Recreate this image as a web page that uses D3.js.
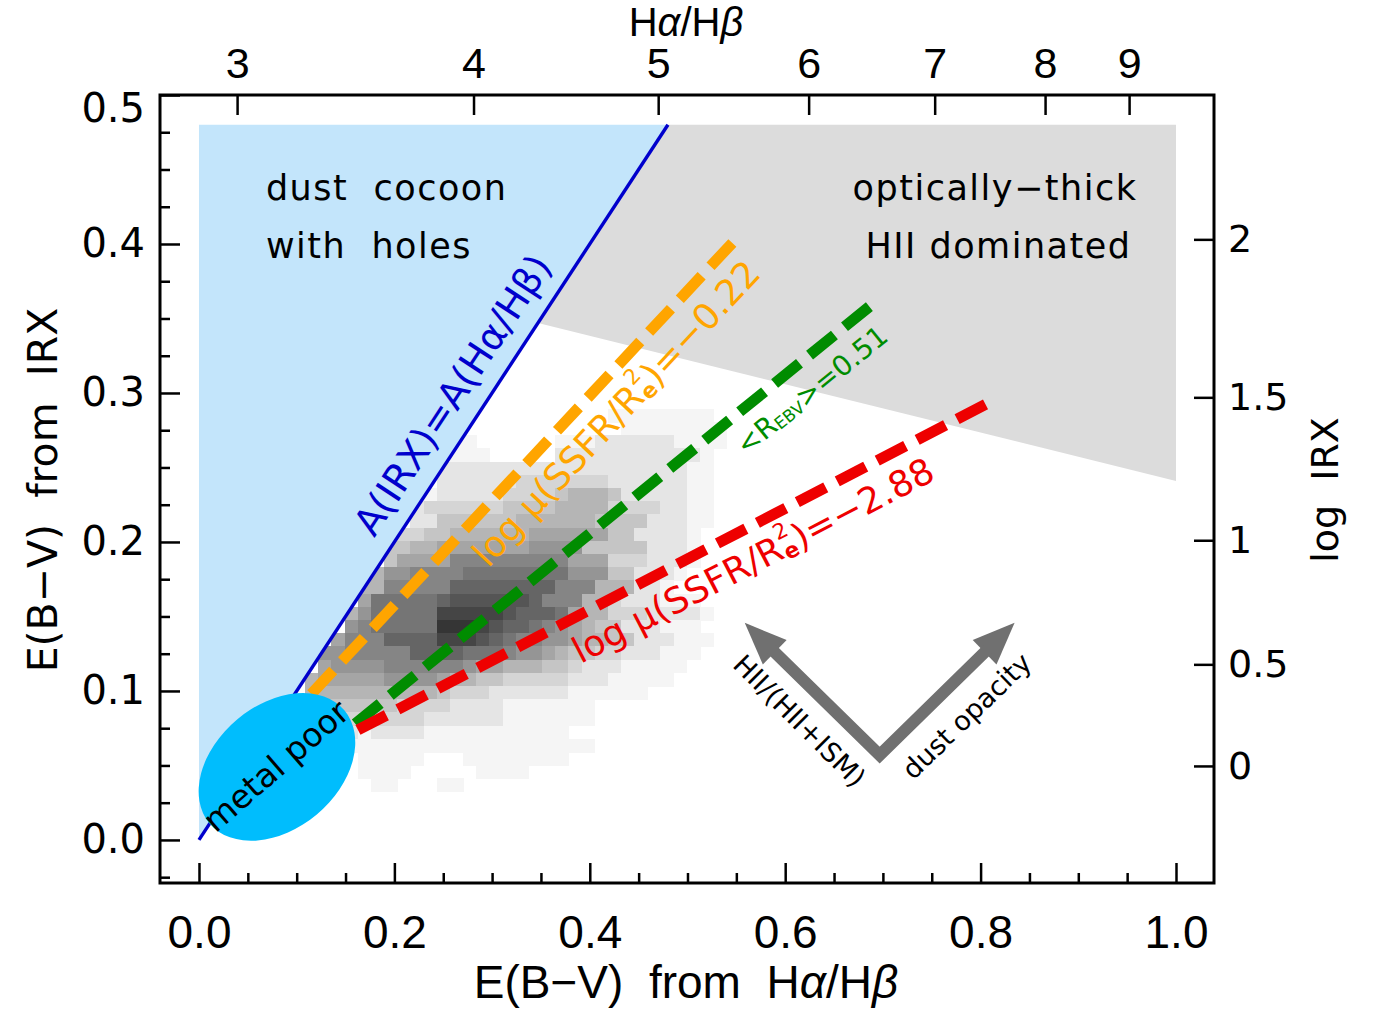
<!DOCTYPE html>
<html><head><meta charset="utf-8">
<script src="https://cdn.jsdelivr.net/npm/d3@7"></script>
<style>body{margin:0;background:#fff}</style>
</head><body><svg id="c" width="1380" height="1011"></svg>
<script>
// ---------------- data ----------------
const xMajorTicks = [0, 0.2, 0.4, 0.6, 0.8, 1.0];
const xMinorTicks = [0.05,0.1,0.15,0.25,0.3,0.35,0.45,0.5,0.55,0.65,0.7,0.75,0.85,0.9,0.95];
const yMajorTicks = [0, 0.1, 0.2, 0.3, 0.4, 0.5];
const yMinorTicks = [-0.025,0.025,0.05,0.075,0.125,0.15,0.175,0.225,0.25,0.275,0.325,0.35,0.375,0.425,0.45,0.475];
const ratioTicks = [3, 4, 5, 6, 7, 8, 9];
const ratioTickEBV = [0.039, 0.281, 0.470, 0.624, 0.753, 0.866, 0.952];
const irxTicks = [0, 0.5, 1, 1.5, 2];
const irxTickLabels = ["0", "0.5", "1", "1.5", "2"];
const buatCoef = [0.4967, 1.1960, 0.3522, -0.0333];   // A_FUV(log IRX)
const kFUV = 10.0;

const blueRegion = [[0,0],[0,0.48],[0.48,0.48]];
const grayRegion = [[0.347,0.347],[0.48,0.48],[1.0,0.48],[1.0,0.241]];
const equalityLine = [[0,0],[0.48,0.48]];
const orangeLine = [[0.115,0.098],[0.552,0.405]];
const greenLine  = [[0.160,0.078],[0.690,0.360]];
const redLine    = [[0.1627,0.0738],[0.810,0.294]];

const ellipseCenter = [0.0798, 0.049];
const arrowVertex = [0.6967, 0.0570];
const arrowTips = [[0.5586, 0.1457], [0.8348, 0.1457]];

// 2D histogram (hex density levels), rows top -> bottom
const heatX0 = 0.0952, heatDX = 0.01347, heatY0 = 0.0324, heatDY = 0.00886, heatCols = 34;
const heatRows = [
 "",
 "000000000000000000000000 11111111",
 "0000000000000000000000000 11111111",
 "00000000000 111 000000 1112222221111",
 "000000000000 111 00000 22222222222 1",
 "00000000000 2222222222222222222 11",
 "00000000000 222222 3333333 222222 11",
 "0000000000 1 22222 3333 45554 22222 11",
 "000000000 2 333333 4444 5555 333322 11",
 "000000000 22 444444 555555 4444 222 11",
 "00000000 33 44555555 666666 44 2222 1",
 "0000000 44 55 6666666 7777 44444 222 1",
 "0000000 4 6666 888888888 666 333 222 1",
 "000000 5 778888 99999999 777 44 222 1",
 "00000 55 88888 aaaaaaaa 888 555 22 1",
 "00000 6 99999 abbbbbba 888 55 3222 111",
 "0000 5 7 99999 ccccc baaa 9 655 333 2222 1",
 "0000 7 8 99999 dddc baa 98 765 44 222 111",
 "000 6 888 aaaa cccb a98 877 655 44 222 111",
 "00 77 88 888 aaaa 999 877 654 433 222 111",
 "00 6 7777 888 888 766 555 443 222 11111",
 "0 5 66666 7777 6 5544 33333 222 11111",
 "0 55 55555555 4 333 222222 111111",
 "4444 4444 3333 2222 1111111",
 "33333 33333 222222 1111111",
 "22222 1 2222 11111111111",
 "11111 1111111111 11111111",
 "00000 11111 000 11111111",
 "00000 1111 00000 1111",
 "000000 11 000 11"
];

// ---------------- drawing ----------------
const W = 1380, H = 1011;
const plot = {left:160, right:1214, top:95, bottom:883};
const x = d3.scaleLinear().domain([-0.0399, 1.0389]).range([plot.left, plot.right]);
const y = d3.scaleLinear().domain([-0.0289, 0.5]).range([plot.bottom, plot.top]);
const eFromIrx = L => (buatCoef[0] + buatCoef[1]*L + buatCoef[2]*L*L + buatCoef[3]*L*L*L) / kFUV;
const xTop = d3.scaleLinear().domain(ratioTicks).range(ratioTickEBV.map(e => x(e)));
const yRight = d3.scaleLinear().domain(irxTicks).range(irxTicks.map(L => y(eFromIrx(L))));

const svg = d3.select("#c");
svg.append("rect").attr("width", W).attr("height", H).attr("fill", "#fff");
svg.append("defs").append("clipPath").attr("id","clip").append("rect")
  .attr("x", plot.left).attr("y", plot.top).attr("width", plot.right-plot.left).attr("height", plot.bottom-plot.top);
const g = svg.append("g").attr("clip-path","url(#clip)");
const line = d3.line().x(d => x(d[0])).y(d => y(d[1]));

// heatmap
const cells = [];
heatRows.forEach((s, i) => {
  const row = s.replace(/ /g, "").padEnd(heatCols, "0");
  const r = heatRows.length - 1 - i;
  for (let c = 0; c < heatCols; c++) {
    const v = parseInt(row[c], 16);
    if (v > 0) cells.push({c, r, v});
  }
});
const grayOf = v => { const k = Math.max(40, Math.round(245 - (v - 1) * 16)); return `rgb(${k},${k},${k})`; };
g.append("g").selectAll("rect").data(cells).join("rect")
  .attr("x", d => x(heatX0 + d.c*heatDX))
  .attr("y", d => y(heatY0 + (d.r+1)*heatDY))
  .attr("width", d => x(heatX0 + (d.c+1)*heatDX) - x(heatX0 + d.c*heatDX) + 0.6)
  .attr("height", d => y(heatY0 + d.r*heatDY) - y(heatY0 + (d.r+1)*heatDY) + 0.6)
  .attr("fill", d => grayOf(d.v))
  .attr("shape-rendering", "crispEdges");

// regions
g.append("path").attr("d", line(blueRegion) + "Z").attr("fill", "#c3e5fb");
g.append("path").attr("d", line(grayRegion) + "Z").attr("fill", "#dcdcdc");
g.append("path").attr("d", line(equalityLine)).attr("stroke", "#0000cc").attr("stroke-width", 3.4).attr("fill", "none");

// dashed relations
[[orangeLine, "#ffa500"], [greenLine, "#008c00"], [redLine, "#ee0000"]].forEach(([pts, col]) => {
  g.append("path").attr("d", line(pts)).attr("stroke", col).attr("stroke-width", 11)
    .attr("stroke-dasharray", "32,13").attr("fill", "none");
});

// metal poor ellipse
g.append("ellipse").attr("cx", x(ellipseCenter[0])).attr("cy", y(ellipseCenter[1]))
  .attr("rx", 88).attr("ry", 62).attr("fill", "#00bdfd")
  .attr("transform", `rotate(-40 ${x(ellipseCenter[0])} ${y(ellipseCenter[1])})`);

// arrows
const vx = x(arrowVertex[0]), vy = y(arrowVertex[1]);
const bases = [];
arrowTips.forEach(t => {
  const tx = x(t[0]), ty = y(t[1]);
  const a = Math.atan2(ty - vy, tx - vx);
  const hl = 42, hw = 17;
  const bx = tx - hl*Math.cos(a), by = ty - hl*Math.sin(a);
  bases.push([bx + 4*Math.cos(a), by + 4*Math.sin(a)]);
  const px = -Math.sin(a), py = Math.cos(a);
  g.append("path").attr("d", `M${tx},${ty}L${bx+hw*px},${by+hw*py}L${bx-hw*px},${by-hw*py}Z`).attr("fill", "#707070");
});
g.append("path").attr("d", `M${bases[0][0]},${bases[0][1]}L${vx},${vy}L${bases[1][0]},${bases[1][1]}`)
  .attr("stroke", "#707070").attr("stroke-width", 12).attr("fill", "none").attr("stroke-linejoin", "miter");

// ---------- labels ----------
const FONT = "DejaVu Sans";
const angleOf = pts => Math.atan2(y(pts[1][1]) - y(pts[0][1]), x(pts[1][0]) - x(pts[0][0])) * 180 / Math.PI;
function rotText(pos, ang, size, color, build) {
  const px = x(pos[0]), py = y(pos[1]);
  const t = svg.append("text").attr("x", px).attr("y", py)
    .attr("transform", `rotate(${ang} ${px} ${py})`)
    .attr("text-anchor", "middle").attr("dominant-baseline", "central")
    .attr("font-family", FONT).attr("font-size", size).attr("fill", color);
  build(t, size);
  return t;
}
function plain(str) { return t => t.text(str); }
function ssfr(val) {
  return (t, s) => {
    t.append("tspan").text("log μ(SSFR/R");
    t.append("tspan").attr("font-size", s*0.6).attr("dy", -s*0.38).text("2");
    t.append("tspan").attr("font-size", s*0.6).attr("dx", -s*0.36).attr("dy", s*0.62).attr("font-weight", "bold").text("e");
    t.append("tspan").attr("dy", -s*0.24).text(")=" + val);
  };
}
rotText([0.2598, 0.2987], angleOf(equalityLine), 38, "#0000cc", plain("A(IRX)=A(Hα/Hβ)"));
rotText([0.4266, 0.2866], angleOf(orangeLine), 36, "#ffa500", ssfr("−0.22"));
rotText([0.5668, 0.1879], angleOf(redLine), 36, "#ee0000", ssfr("−2.88"));
rotText([0.6271, 0.3020], angleOf(greenLine), 28, "#008c00", (t, s) => {
  t.append("tspan").text("<R");
  t.append("tspan").attr("font-size", s*0.6).attr("dy", s*0.2).text("EBV");
  t.append("tspan").attr("dy", -s*0.2).text(">=0.51");
});
rotText([0.0788, 0.0497], -41, 33, "#000", plain("metal poor"));
rotText([0.6148, 0.0799], 45, 27, "#000", plain("HII/(HII+ISM)"));
rotText([0.7857, 0.0832], -44, 27, "#000", plain("dust opacity"));

const regionText = [
  {pos:[0.0685, 0.4295], anchor:"start", text:"dust  cocoon"},
  {pos:[0.0685, 0.3906], anchor:"start", text:"with  holes"},
  {pos:[0.9606, 0.4295], anchor:"end", text:"optically−thick"},
  {pos:[0.9545, 0.3906], anchor:"end", text:"HII dominated"}
];
svg.append("g").selectAll("text").data(regionText).join("text")
  .attr("x", d => x(d.pos[0])).attr("y", d => y(d.pos[1]))
  .attr("text-anchor", d => d.anchor).attr("font-family", FONT).attr("font-size", 35)
  .attr("letter-spacing", 1.5).style("white-space", "pre").text(d => d.text);

// ---------- frame & axes ----------
svg.append("rect").attr("x", plot.left).attr("y", plot.top)
  .attr("width", plot.right - plot.left).attr("height", plot.bottom - plot.top)
  .attr("fill", "none").attr("stroke", "#000").attr("stroke-width", 3);

function styleAxis(sel, font, size) {
  sel.select(".domain").remove();
  sel.selectAll(".tick line").attr("stroke", "#000").attr("stroke-width", 2.5);
  sel.selectAll("text").attr("font-family", font).attr("font-size", size).attr("fill", "#000");
}
const COND = "Liberation Sans Narrow, Liberation Sans, Arial";
svg.append("g").attr("transform", `translate(${plot.left},0)`)
  .call(d3.axisLeft(y).tickValues(yMinorTicks).tickSize(-10).tickFormat(""))
  .call(s => styleAxis(s, FONT, 40));
svg.append("g").attr("transform", `translate(${plot.left},0)`)
  .call(d3.axisLeft(y).tickValues(yMajorTicks).tickSize(-20).tickPadding(15).tickFormat(d3.format(".1f")))
  .call(s => styleAxis(s, FONT, 40))
  .call(s => s.selectAll(".tick text").filter(d => d === 0.5).attr("dy", "0.32em").attr("y", 14));
svg.append("g").attr("transform", `translate(0,${plot.bottom})`)
  .call(d3.axisBottom(x).tickValues(xMinorTicks).tickSize(-10).tickFormat(""))
  .call(s => styleAxis(s, COND, 46));
svg.append("g").attr("transform", `translate(0,${plot.bottom})`)
  .call(d3.axisBottom(x).tickValues(xMajorTicks).tickSize(-20).tickPadding(32).tickFormat(d3.format(".1f")))
  .call(s => styleAxis(s, COND, 46));
svg.append("g").attr("transform", `translate(0,${plot.top})`)
  .call(d3.axisTop(xTop).tickValues(ratioTicks).tickSize(-20).tickPadding(17).tickFormat(d3.format("d")))
  .call(s => styleAxis(s, COND, 43));
svg.append("g").attr("transform", `translate(${plot.right},0)`)
  .call(d3.axisRight(yRight).tickValues(irxTicks).tickSize(-20).tickPadding(14).tickFormat((d, i) => irxTickLabels[i]))
  .call(s => styleAxis(s, FONT, 38));

// axis titles
function greekTitle(sel, parts) {
  parts.forEach(p => sel.append("tspan").attr("font-style", p.it ? "italic" : null).text(p.t));
}
const bt = svg.append("text").attr("x", 686).attr("y", 998).attr("text-anchor", "middle")
  .attr("font-family", COND).attr("font-size", 46).style("white-space", "pre");
greekTitle(bt, [{t:"E(B−V)  from  H"}, {t:"α", it:true}, {t:"/H"}, {t:"β", it:true}]);
const tt = svg.append("text").attr("x", 686).attr("y", 36).attr("text-anchor", "middle")
  .attr("font-family", COND).attr("font-size", 40);
greekTitle(tt, [{t:"H"}, {t:"α", it:true}, {t:"/H"}, {t:"β", it:true}]);
svg.append("text").attr("transform", "translate(57,490) rotate(-90)").attr("text-anchor", "middle")
  .attr("font-family", FONT).attr("font-size", 41).style("white-space", "pre").text("E(B−V)  from  IRX");
svg.append("text").attr("transform", "translate(1338,490) rotate(-90)").attr("text-anchor", "middle")
  .attr("font-family", FONT).attr("font-size", 38).style("white-space", "pre").text("log  IRX");
</script></body></html>
